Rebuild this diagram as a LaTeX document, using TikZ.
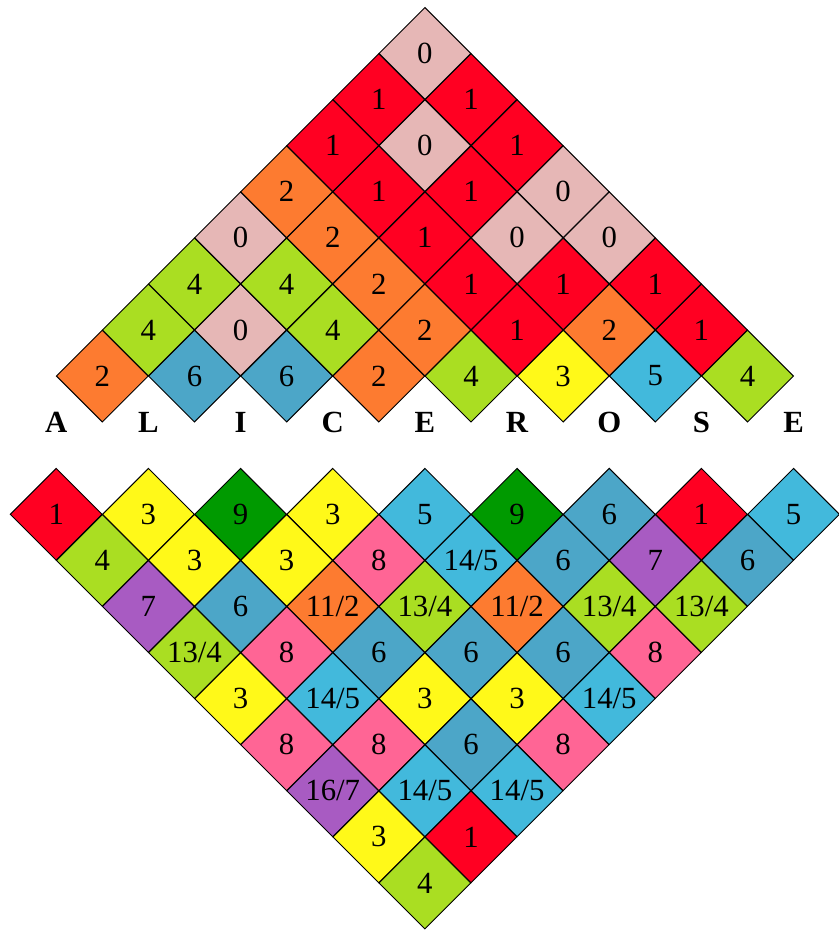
\documentclass[tikz,border=0pt]{standalone}
\usepackage{fontspec}
\setmainfont{Liberation Serif}
\usetikzlibrary{shapes.geometric}
\definecolor{cpink}{HTML}{E6B7B6}
\definecolor{cred}{HTML}{FF0022}
\definecolor{corange}{HTML}{FD7B30}
\definecolor{cgreen}{HTML}{AADE22}
\definecolor{cyellow}{HTML}{FFF919}
\definecolor{cblue}{HTML}{4CA6C8}
\definecolor{csky}{HTML}{42B9DC}
\definecolor{cdgreen}{HTML}{009A00}
\definecolor{cpurple}{HTML}{A85BC2}
\definecolor{crose}{HTML}{FF6595}
\begin{document}
\begin{tikzpicture}[line join=miter,
	cell/.style={diamond,draw,line width=0.6pt,aspect=1,minimum size=2cm,inner sep=0pt,font=\fontsize{19}{22}\selectfont},
	letter/.style={font=\fontsize{19}{22}\selectfont\bfseries}]
	\useasboundingbox (-1.22,-12.02) rectangle (16.97,8.16);
	% upper triangle, bottom row first
	\foreach \row [count=\r] in {
		{2/corange,6/cblue,6/cblue,2/corange,4/cgreen,3/cyellow,5/csky,4/cgreen},
		{4/cgreen,0/cpink,4/cgreen,2/corange,1/cred,2/corange,1/cred},
		{4/cgreen,4/cgreen,2/corange,1/cred,1/cred,1/cred},
		{0/cpink,2/corange,1/cred,0/cpink,0/cpink},
		{2/corange,1/cred,1/cred,0/cpink},
		{1/cred,0/cpink,1/cred},
		{1/cred,1/cred},
		{0/cpink}}
	\foreach \v/\c [count=\i] in \row
		\node[cell,fill=\c] (u-\r-\i) at ({\r+2*\i-2},{\r-1}) {\v};
	% letters
	\foreach \t [count=\i] in {A,L,I,C,E,R,O,S,E}
		\node[letter] (t-\i) at ({2*\i-2},-1) {\t};
	% lower triangle, top row first
	\foreach \row [count=\r] in {
		{1/cred,3/cyellow,9/cdgreen,3/cyellow,5/csky,9/cdgreen,6/cblue,1/cred,5/csky},
		{4/cgreen,3/cyellow,3/cyellow,8/crose,14\slash5/csky,6/cblue,7/cpurple,6/cblue},
		{7/cpurple,6/cblue,11\slash2/corange,13\slash4/cgreen,11\slash2/corange,13\slash4/cgreen,13\slash4/cgreen},
		{13\slash4/cgreen,8/crose,6/cblue,6/cblue,6/cblue,8/crose},
		{3/cyellow,14\slash5/csky,3/cyellow,3/cyellow,14\slash5/csky},
		{8/crose,8/crose,6/cblue,8/crose},
		{16\slash7/cpurple,14\slash5/csky,14\slash5/csky},
		{3/cyellow,1/cred},
		{4/cgreen}}
	\foreach \v/\c [count=\i] in \row
		\node[cell,fill=\c] (l-\r-\i) at ({\r+2*\i-3},{-2-\r}) {\v};
\end{tikzpicture}
\end{document}
